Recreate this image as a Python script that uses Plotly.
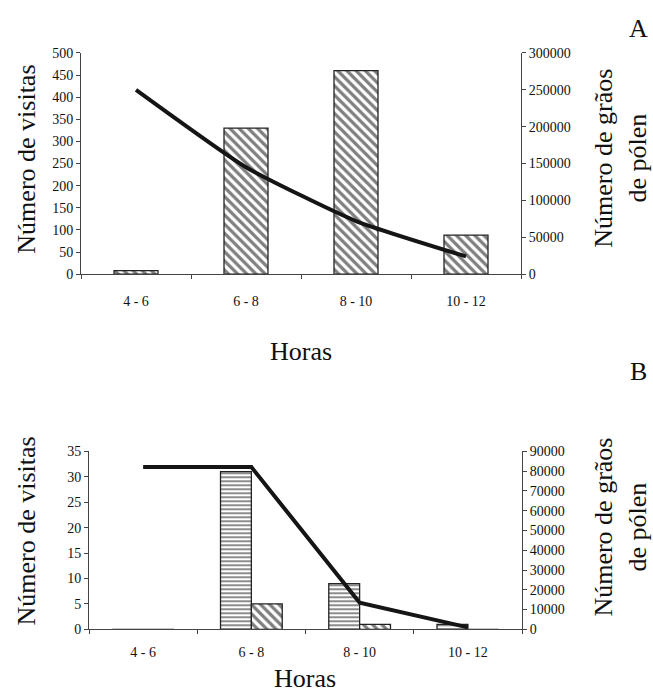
import plotly.graph_objects as go

# ---- data ----
horas = ["4 - 6", "6 - 8", "8 - 10", "10 - 12"]
visitas_A = [8, 330, 460, 88]
polen_A = [250000, 145000, 72000, 24000]
visitas_B1 = [0, 31, 9, 1]
visitas_B2 = [0, 5, 1, 0]
polen_B = [82000, 82000, 13500, 1000]

W, H = 653, 700
FONT = "Liberation Serif"
AX = "#444"

def px(x):
    return x / W

def py(y):
    return 1 - y / H

fig = go.Figure()

diag = dict(shape="\\", fgcolor="black", bgcolor="white", size=6.5, solidity=0.5)
horiz = dict(shape="-", fgcolor="black", bgcolor="white", size=4, solidity=0.45)
outline = dict(color="#222", width=1.3)

# Chart A
fig.add_trace(go.Bar(x=horas, y=visitas_A, width=0.4, xaxis="x", yaxis="y",
                     marker=dict(color="white", line=outline, pattern=diag)))
fig.add_trace(go.Scatter(x=horas, y=polen_A, xaxis="x", yaxis="y2", mode="lines",
                         line=dict(color="#151515", width=4, shape="spline", smoothing=0.5)))

# Chart B
fig.add_trace(go.Bar(x=horas, y=visitas_B1, xaxis="x2", yaxis="y3",
                     marker=dict(color="white", line=outline, pattern=horiz)))
fig.add_trace(go.Bar(x=horas, y=visitas_B2, xaxis="x2", yaxis="y3",
                     marker=dict(color="white", line=outline, pattern=diag)))
fig.add_trace(go.Scatter(x=horas, y=polen_B, xaxis="x2", yaxis="y4", mode="lines",
                         line=dict(color="#151515", width=4)))

tickfont = dict(family=FONT, size=14, color="#111")

def xax(domain, anchor, standoff):
    return dict(domain=domain, anchor=anchor, type="category", categoryarray=horas,
                categoryorder="array", range=[-0.5, 3.5], tickson="boundaries",
                ticks="outside", ticklen=4, tickcolor=AX, showline=True, linecolor=AX,
                linewidth=1, showgrid=False, zeroline=False, tickfont=tickfont,
                ticklabelstandoff=standoff, fixedrange=True, layer="above traces")

def xin(domain, anchor, overlaying):
    # inner half of the crossing tick marks at category boundaries
    return dict(domain=domain, anchor=anchor, overlaying=overlaying, range=[-0.5, 3.5],
                tickmode="array", tickvals=[0.5, 1.5, 2.5], ticks="inside", ticklen=4,
                tickcolor=AX, showticklabels=False, showline=False, showgrid=False,
                zeroline=False, fixedrange=True)

def yax(domain, anchor, rng, dtick, side="left", overlaying=None):
    d = dict(domain=domain, anchor=anchor, range=rng, dtick=dtick, tick0=0,
             ticks="outside", ticklen=4, tickcolor=AX, showline=True, linecolor=AX,
             linewidth=1, showgrid=False, zeroline=False, tickfont=tickfont,
             tickformat="d", side=side, fixedrange=True, layer="above traces")
    if overlaying:
        d["overlaying"] = overlaying
    return d

def yin(domain, anchor, rng, dtick, side, overlaying):
    return dict(domain=domain, anchor=anchor, range=rng, dtick=dtick, tick0=0,
                ticks="inside", ticklen=4, tickcolor=AX, showticklabels=False,
                showline=False, showgrid=False, zeroline=False, side=side,
                overlaying=overlaying, fixedrange=True)

domA_x = [px(81), px(521)]
domA_y = [py(273), py(47)]
domB_x = [px(89), px(522)]
domB_y = [py(636), py(454)]

fig.update_layout(
    width=W, height=H,
    margin=dict(l=0, r=0, t=0, b=0),
    paper_bgcolor="white", plot_bgcolor="white",
    showlegend=False,
    barmode="group", bargap=0.43, bargroupgap=0,
    xaxis=xax(domA_x, "y", 14),
    yaxis=yax(domA_y, "x", [0, 500], 50),
    yaxis2=yax(domA_y, "x", [0, 300000], 50000, side="right", overlaying="y"),
    xaxis2=xax(domB_x, "y3", 10),
    yaxis3=yax(domB_y, "x2", [0, 35], 5),
    yaxis4=yax(domB_y, "x2", [0, 90000], 10000, side="right", overlaying="y3"),
    xaxis3=xin(domA_x, "y", "x"),
    xaxis4=xin(domB_x, "y3", "x2"),
    yaxis5=yin(domA_y, "x", [0, 500], 50, "left", "y"),
    yaxis6=yin(domA_y, "x", [0, 300000], 50000, "right", "y"),
    yaxis7=yin(domB_y, "x2", [0, 35], 5, "left", "y3"),
    yaxis8=yin(domB_y, "x2", [0, 90000], 10000, "right", "y3"),
    font=dict(family=FONT, color="#111"),
)

big = dict(family=FONT, size=26, color="#111")
ann = [
    dict(text="A", x=px(638), y=py(22)),
    dict(text="B", x=px(638), y=py(372)),
    dict(text="Horas", x=px(301), y=py(352)),
    dict(text="Horas", x=px(305), y=py(686)),
    dict(text="Número de visitas", x=px(27), y=py(156), textangle=-90),
    dict(text="Número de visitas", x=px(27), y=py(536), textangle=-90),
    dict(text="Número de grãos<br>de pólen", x=px(621), y=py(155), textangle=-90),
    dict(text="Número de grãos<br>de pólen", x=px(621), y=py(532), textangle=-90),
]
for a in ann:
    fig.add_annotation(xref="paper", yref="paper", showarrow=False, font=big,
                       xanchor="center", yanchor="middle", **a)

fig.write_html("out.html")
